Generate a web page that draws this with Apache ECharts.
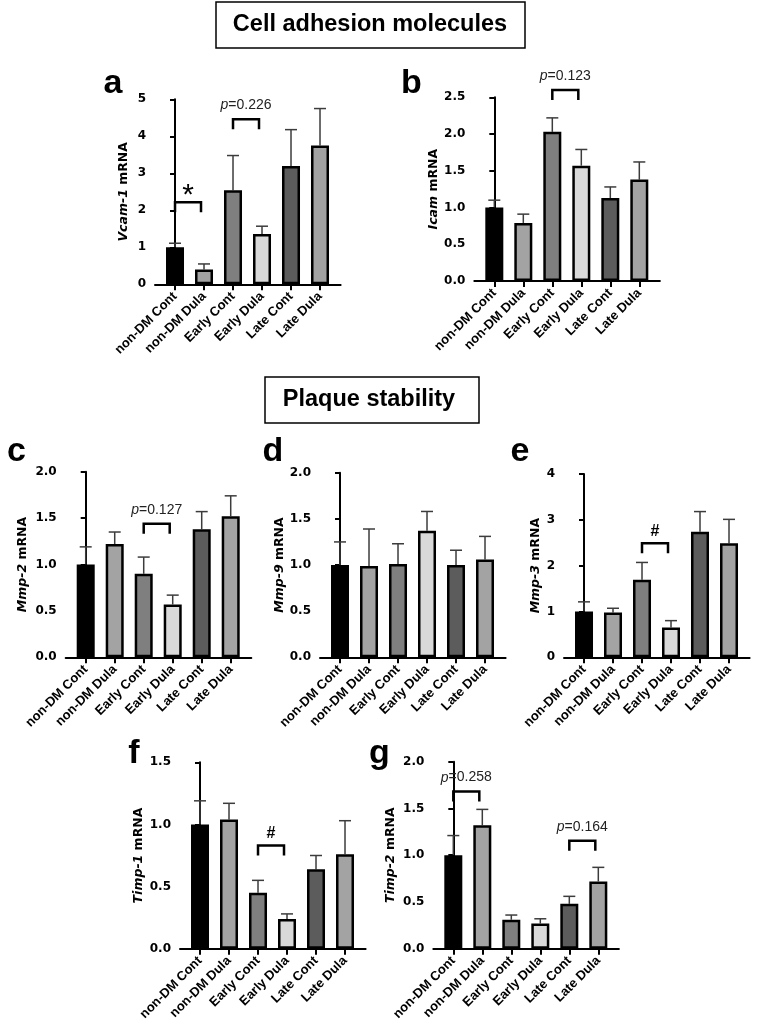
<!DOCTYPE html>
<html><head><meta charset="utf-8">
<script src="https://cdn.jsdelivr.net/npm/echarts@6/dist/echarts.min.js"></script>
<style>html,body{margin:0;padding:0;background:#fff}#c{width:767px;height:1036px}</style>
</head><body><div id="c"></div><script>
// ---------- DATA ----------
const categories = ['non-DM Cont', 'non-DM Dula', 'Early Cont', 'Early Dula', 'Late Cont', 'Late Dula'];

const vcam1Mean = [1.00, 0.40, 2.54, 1.36, 3.20, 3.75];
const vcam1Sem  = [0.11, 0.15, 0.94, 0.21, 0.98, 1.00];
const icamMean  = [1.00, 0.79, 2.03, 1.57, 1.13, 1.38];
const icamSem   = [0.10, 0.12, 0.19, 0.22, 0.15, 0.24];
const mmp2Mean  = [1.00, 1.22, 0.90, 0.57, 1.38, 1.52];
const mmp2Sem   = [0.19, 0.13, 0.18, 0.10, 0.19, 0.22];
const mmp9Mean  = [1.00, 0.99, 1.01, 1.37, 1.00, 1.06];
const mmp9Sem   = [0.25, 0.40, 0.22, 0.21, 0.16, 0.25];
const mmp3Mean  = [1.00, 0.98, 1.69, 0.65, 2.74, 2.49];
const mmp3Sem   = [0.21, 0.09, 0.38, 0.15, 0.44, 0.52];
const timp1Mean = [1.00, 1.04, 0.45, 0.24, 0.64, 0.76];
const timp1Sem  = [0.19, 0.13, 0.10, 0.04, 0.11, 0.27];
const timp2Mean = [1.00, 1.32, 0.31, 0.27, 0.48, 0.72];
const timp2Sem  = [0.21, 0.17, 0.05, 0.05, 0.08, 0.15];

// significance brackets: [fromCategory, toCategory, bracketTopValue, label]
const vcam1Brackets = [[0, 1, 2.22, '*'], [2, 3, 4.46, 'p=0.226']];
const icamBrackets  = [[2, 3, 2.60, 'p=0.123']];
const mmp2Brackets  = [[2, 3, 1.44, 'p=0.127']];
const mmp9Brackets  = [];
const mmp3Brackets  = [[2, 3, 2.49, '#']];
const timp1Brackets = [[2, 3, 0.83, '#']];
const timp2Brackets = [[0, 1, 1.68, 'p=0.258'], [4, 5, 1.155, 'p=0.164']];

// y axis [min, max, interval]
const yTicks = {
  vcam1: [0, 5, 1], icam: [0, 2.5, 0.5], mmp2: [0, 2, 0.5], mmp9: [0, 2, 0.5],
  mmp3: [0, 4, 1], timp1: [0, 1.5, 0.5], timp2: [0, 2, 0.5]
};

// ---------- STYLE / LAYOUT ----------
const FONT = '"Liberation Sans", Arial, sans-serif';
const WIDE = '"DejaVu Sans", sans-serif';
const barColors = ['#000000', '#a3a3a3', '#7f7f7f', '#d9d9d9', '#5c5c5c', '#a3a3a3'];

const panels = [
  {letter: 'a', gene: 'Vcam-1', mean: vcam1Mean, sem: vcam1Sem, br: vcam1Brackets, ax: yTicks.vcam1, dec: 0,
   grid: {left: 155, top: 99.3, height: 185}, lp: [113, 95], nameGap: 25},
  {letter: 'b', gene: 'Icam', mean: icamMean, sem: icamSem, br: icamBrackets, ax: yTicks.icam, dec: 1,
   grid: {left: 474.3, top: 97.3, height: 183.7}, lp: [411.5, 95], nameGap: 34},
  {letter: 'c', gene: 'Mmp-2', mean: mmp2Mean, sem: mmp2Sem, br: mmp2Brackets, ax: yTicks.mmp2, dec: 1,
   grid: {left: 65.7, top: 471.7, height: 185.6}, lp: [16.5, 463], nameGap: 36},
  {letter: 'd', gene: 'Mmp-9', mean: mmp9Mean, sem: mmp9Sem, br: mmp9Brackets, ax: yTicks.mmp9, dec: 1,
   grid: {left: 320, top: 472.7, height: 184.6}, lp: [273, 463], nameGap: 31},
  {letter: 'e', gene: 'Mmp-3', mean: mmp3Mean, sem: mmp3Sem, br: mmp3Brackets, ax: yTicks.mmp3, dec: 0,
   grid: {left: 564, top: 474, height: 183.3}, lp: [520, 463], nameGap: 22},
  {letter: 'f', gene: 'Timp-1', mean: timp1Mean, sem: timp1Sem, br: timp1Brackets, ax: yTicks.timp1, dec: 1,
   grid: {left: 180, top: 762.3, height: 186.4}, lp: [134, 765], nameGap: 35},
  {letter: 'g', gene: 'Timp-2', mean: timp2Mean, sem: timp2Sem, br: timp2Brackets, ax: yTicks.timp2, dec: 1,
   grid: {left: 433.3, top: 761.7, height: 187}, lp: [379.5, 765], nameGap: 36}
];

const X_MIN = -0.69, X_MAX = 5.71, BAND = 29;
const catIdx = categories.map((c, i) => i);

const grid = [], xAxis = [], yAxis = [], series = [], graphic = [];

panels.forEach((p, k) => {
  grid.push({left: p.grid.left, top: p.grid.top, width: (X_MAX - X_MIN) * BAND, height: p.grid.height, containLabel: false});
  xAxis.push({
    type: 'value', gridIndex: k, min: X_MIN, max: X_MAX,
    axisLine: {show: true, onZero: false, lineStyle: {color: '#000', width: 2}},
    axisTick: {show: true, customValues: catIdx, length: 6, lineStyle: {color: '#000', width: 2}},
    axisLabel: {show: true, customValues: catIdx, formatter: v => categories[Math.round(v)] || '',
      rotate: 45, margin: 10, color: '#000', fontWeight: 'bold', fontSize: 13, fontFamily: FONT},
    splitLine: {show: false}
  });
  yAxis.push({
    type: 'value', gridIndex: k, min: p.ax[0], max: p.ax[1], interval: p.ax[2],
    axisLine: {show: true, lineStyle: {color: '#000', width: 2}},
    axisTick: {show: true, length: 5, lineStyle: {color: '#000', width: 2}},
    axisLabel: {color: '#000', fontWeight: 'bold', fontSize: 12, fontFamily: WIDE, margin: 9,
      formatter: v => v.toFixed(p.dec)},
    splitLine: {show: false},
    name: '{i|' + p.gene + '} {n|mRNA}', nameLocation: 'middle', nameRotate: 90, nameGap: p.nameGap,
    nameTextStyle: {color: '#000', fontFamily: WIDE, fontSize: 12.5, fontWeight: 'bold',
      rich: {i: {fontStyle: 'italic', fontWeight: 'bold', fontSize: 12.5, fontFamily: WIDE, color: '#000'},
             n: {fontWeight: 'bold', fontSize: 12.5, fontFamily: WIDE, color: '#000'}}}
  });
  // error bars (drawn behind the bars)
  series.push({
    type: 'custom', xAxisIndex: k, yAxisIndex: k, z: 1, silent: true,
    data: p.mean.map((m, i) => [i, m, p.sem[i]]),
    renderItem: (params, api) => {
      const x = api.value(0), m = api.value(1), s = api.value(2);
      const a = api.coord([x, m]), b = api.coord([x, m + s]);
      const st = {stroke: '#3c3c3c', lineWidth: 1.5};
      return {type: 'group', children: [
        {type: 'line', shape: {x1: a[0], y1: a[1], x2: b[0], y2: b[1]}, style: st},
        {type: 'line', shape: {x1: b[0] - 6, y1: b[1], x2: b[0] + 6, y2: b[1]}, style: st}
      ]};
    }
  });
  // bars
  series.push({
    type: 'bar', xAxisIndex: k, yAxisIndex: k, z: 2, barWidth: 18, silent: true,
    data: p.mean.map((m, i) => ({value: [i, m], itemStyle: {color: barColors[i]}})),
    itemStyle: {borderColor: '#000', borderWidth: 2.5}
  });
  // significance brackets
  if (p.br.length) {
    series.push({
      type: 'custom', xAxisIndex: k, yAxisIndex: k, z: 3, silent: true,
      data: p.br.map(b => [b[0], b[1], b[2]]),
      renderItem: (params, api) => {
        const lab = p.br[params.dataIndex][3];
        const a = api.coord([api.value(0), api.value(2)]);
        const b = api.coord([api.value(1), api.value(2)]);
        const xl = a[0], xr = b[0] - 3, yt = a[1];
        let txt;
        if (lab === '*') {
          txt = {type: 'text', style: {text: '*', x: (xl + xr) / 2, y: yt - 6, align: 'center', verticalAlign: 'middle',
            fontSize: 30, fontFamily: FONT, fill: '#000'}};
        } else if (lab === '#') {
          txt = {type: 'text', style: {text: '#', x: (xl + xr) / 2, y: yt - 12, align: 'center', verticalAlign: 'middle',
            fontSize: 16, fontWeight: 'bold', fontFamily: FONT, fill: '#000'}};
        } else {
          txt = {type: 'text', style: {text: '{i|p}' + lab.slice(1), x: (xl + xr) / 2, y: yt - 14, align: 'center', verticalAlign: 'middle',
            fontSize: 14, fontFamily: FONT, fill: '#222',
            rich: {i: {fontStyle: 'italic', fontSize: 14, fontFamily: FONT, fill: '#222'}}}};
        }
        return {type: 'group', children: [
          {type: 'polyline', shape: {points: [[xl, yt + 10], [xl, yt], [xr, yt], [xr, yt + 10]]},
           style: {stroke: '#000', lineWidth: 2.5, fill: null}},
          txt
        ]};
      }
    });
  }
  graphic.push({type: 'text', x: p.lp[0], y: p.lp[1] - 11,
    style: {text: p.letter, align: 'center', verticalAlign: 'middle', fontSize: 34, fontWeight: 'bold', fontFamily: FONT, fill: '#000'}});
});

graphic.push(
  {type: 'rect', shape: {x: 216, y: 2, width: 309, height: 46}, style: {fill: '#fff', stroke: '#000', lineWidth: 1.5}},
  {type: 'text', x: 370, y: 25, style: {text: 'Cell adhesion molecules', align: 'center', verticalAlign: 'middle',
    fontSize: 23.5, fontWeight: 'bold', fontFamily: FONT, fill: '#000'}},
  {type: 'rect', shape: {x: 265, y: 377, width: 214, height: 46}, style: {fill: '#fff', stroke: '#000', lineWidth: 1.5}},
  {type: 'text', x: 369, y: 400, style: {text: 'Plaque stability', align: 'center', verticalAlign: 'middle',
    fontSize: 23.5, fontWeight: 'bold', fontFamily: FONT, fill: '#000'}}
);

const chart = echarts.init(document.getElementById('c'), null, {renderer: 'canvas'});
chart.setOption({animation: false, backgroundColor: '#fff', grid, xAxis, yAxis, series, graphic});
</script></body></html>
